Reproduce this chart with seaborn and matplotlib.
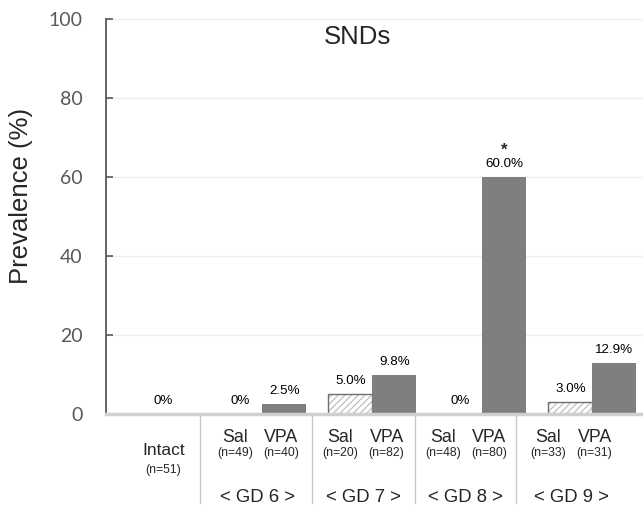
import matplotlib
matplotlib.use("Agg")
import matplotlib.pyplot as plt
from matplotlib.colors import to_rgba
import seaborn as sns
import pandas as pd

# ---- data -------------------------------------------------------------
groups = ["Intact", "GD 6", "GD 7", "GD 8", "GD 9"]
gd_groups = ["GD 6", "GD 7", "GD 8", "GD 9"]
treatments = ["Sal", "VPA"]
sal_values = [0.0, 5.0, 0.0, 3.0]
vpa_values = [2.5, 9.8, 60.0, 12.9]
sal_n = [49, 20, 48, 33]
vpa_n = [40, 82, 80, 31]
intact_value = 0.0
intact_n = 51
significant = ["GD 8"]          # VPA groups marked with *
yticks = [0, 20, 40, 60, 80, 100]
title = "SNDs"
ylabel = "Prevalence (%)"

gd_df = pd.DataFrame({
    "group": gd_groups * 2,
    "treatment": ["Sal"] * len(gd_groups) + ["VPA"] * len(gd_groups),
    "value": sal_values + vpa_values,
})
intact_df = pd.DataFrame({"group": ["Intact"], "value": [intact_value]})

# layout of the label table under the axis (x in category units)
table_intact_x = 0.10
table_centers = [0.96, 1.92, 2.85, 3.81]
table_half_gap = 0.21
table_separators = [0.434, 1.452, 2.39, 3.307]

# ---- figure -----------------------------------------------------------
sns.set_theme(style="white")
plt.rcParams["font.family"] = ["Liberation Sans", "DejaVu Sans"]
plt.rcParams["hatch.linewidth"] = 0.9

W, H = 643, 507
fig = plt.figure(figsize=(W / 100, H / 100), dpi=100)
ax = fig.add_axes([106 / W, 93 / H, 537 / W, 395 / H])

dark = "#7f7f7f"
sns.barplot(data=gd_df, x="group", y="value", hue="treatment",
            order=groups, hue_order=treatments,
            palette={"Sal": "white", "VPA": dark},
            saturation=1, width=0.8, gap=0, linewidth=0,
            legend=False, ax=ax, zorder=3)
sns.barplot(data=intact_df, x="group", y="value", order=groups,
            color=dark, saturation=1, width=0.4, linewidth=0, ax=ax, zorder=3)

sal_bars, vpa_bars, intact_bars = ax.containers[0], ax.containers[1], ax.containers[2]
for p in sal_bars:
    p.set_facecolor("white")
    p.set_edgecolor("#6f6f6f")
    p.set_linewidth(1.0)
    p.set_hatch("/////")
    p._hatch_color = to_rgba("#bfbfbf")

def pct(v):
    return "0%" if v == 0 else f"{v:.1f}%"

label_kw = dict(textcoords="offset points", ha="center", va="bottom",
                fontsize=9.6, color="black")
for bars, vals in ((sal_bars, sal_values), (vpa_bars, vpa_values)):
    for p, v in zip(bars, vals):
        x = p.get_x() + p.get_width() / 2
        ax.annotate(pct(v), (x, v), xytext=(0, 5), **label_kw)
for p in intact_bars:
    ax.annotate(pct(intact_value), (table_intact_x, intact_value),
                xytext=(0, 5), **label_kw)
for p, g, v in zip(vpa_bars, gd_groups, vpa_values):
    if g in significant:
        ax.annotate("*", (p.get_x() + p.get_width() / 2, v), xytext=(0, 14),
                    textcoords="offset points", ha="center", va="bottom",
                    fontsize=12, fontweight="bold")

# ---- axes styling -----------------------------------------------------
ax.set_ylim(0, 100)
ax.set_xlim(-0.42, 4.46)
ax.set_yticks(yticks)
ax.set_yticklabels([str(t) for t in yticks], fontsize=14, color="#595959",
                   family=["Lato", "DejaVu Sans"])
ax.tick_params(axis="y", left=True, direction="in", length=5, width=1.2,
               color="#595959", pad=17)
ax.set_xticks([])
ax.set_xlabel("")
ax.set_ylabel(ylabel, fontsize=18.5)
ax.yaxis.set_label_coords(-0.136, 0.552)
ax.yaxis.grid(True, color="#efefef", linewidth=1.0, zorder=0)
ax.set_axisbelow(True)
for s in ("top", "right"):
    ax.spines[s].set_visible(False)
ax.spines["left"].set_color("#595959")
ax.spines["left"].set_linewidth(1.3)
ax.spines["bottom"].set_color("#d0d0d0")
ax.spines["bottom"].set_linewidth(2.5)
ax.spines["bottom"].set_zorder(4)

ax.text(0.469, 0.954, title, transform=ax.transAxes, ha="center", va="center",
        fontsize=18.5)

# ---- category labels below the axis -----------------------------------
xt = ax.get_xaxis_transform()
ax.text(table_intact_x, -0.092, "Intact", transform=xt, ha="center", va="center",
        fontsize=12.5)
ax.text(table_intact_x, -0.142, f"(n={intact_n})", transform=xt, ha="center",
        va="center", fontsize=8.8)
for c, g, ns, nv in zip(table_centers, gd_groups, sal_n, vpa_n):
    for dx, t, n in ((-table_half_gap, "Sal", ns), (table_half_gap, "VPA", nv)):
        ax.text(c + dx, -0.060, t, transform=xt, ha="center", va="center",
                fontsize=12.8)
        ax.text(c + dx, -0.098, f"(n={n})", transform=xt, ha="center",
                va="center", fontsize=8.8)
    ax.text(c, -0.212, f"< {g} >", transform=xt, ha="center", va="center",
            fontsize=13.3)
for xs in table_separators:
    ax.plot([xs, xs], [0.0, -0.225], transform=xt, color="#c8c8c8",
            linewidth=1.0, clip_on=False, zorder=1)

fig.savefig("out.png", dpi=100)
